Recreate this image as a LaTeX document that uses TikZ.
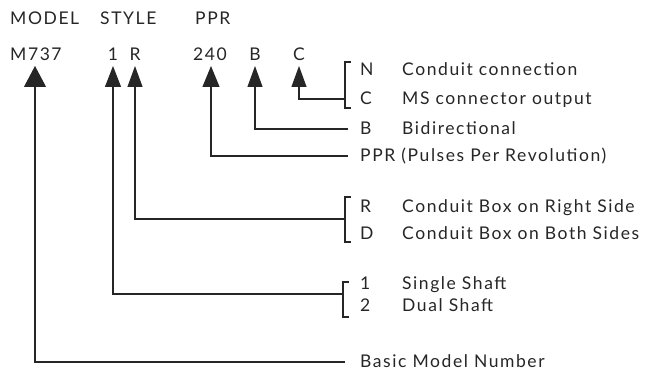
\documentclass[tikz,border=0pt]{standalone}
\usepackage{fontspec}
\setmainfont{Lato}[LetterSpace=9]
\usetikzlibrary{arrows.meta}
\begin{document}
\begin{tikzpicture}[x=1pt,y=-1pt,
  lbl/.style={anchor=base west, inner sep=0pt, font=\fontsize{17.5}{19}\selectfont, text=black!85},
  conn/.style={line width=1.1pt, draw=black!85},
  tip/.style={-{Triangle[length=21pt,width=#1]}},
  brk/.style={line width=1.1pt, draw=black!85}]
\useasboundingbox (0,0) rectangle (645,371);
% header
\node[lbl] (hModel) at (10,25) {MODEL};
\node[lbl] (hStyle) at (100,25) {STYLE};
\node[lbl] (hPPR) at (195,25) {PPR};
% codes
\node[lbl] (cM) at (10,61) {M737};
\node[lbl, anchor=base] (cI) at (113,61) {1};
\node[lbl, anchor=base] (cR) at (135,61) {R};
\node[lbl] (c240) at (193,61) {240};
\node[lbl, anchor=base] (cB) at (255,61) {B};
\node[lbl, anchor=base] (cC) at (299,61) {C};
% right labels
\node[lbl] (kN) at (360,76) {N};
\node[lbl] (dN) at (402,76) {Conduit connection};
\node[lbl] (kC) at (360,105) {C};
\node[lbl] (dC) at (402,105) {MS connector output};
\node[lbl] (kB) at (360,135) {B};
\node[lbl] (dB) at (402,135) {Bidirectional};
\node[lbl] (kP) at (360,162) {PPR (Pulses Per Revolution)};
\node[lbl] (kR) at (360,213) {R};
\node[lbl] (dR) at (402,213) {Conduit Box on Right Side};
\node[lbl] (kD) at (360,240) {D};
\node[lbl] (dD) at (402,240) {Conduit Box on Both Sides};
\node[lbl] (k1) at (360,290) {1};
\node[lbl] (d1) at (402,290) {Single Shaft};
\node[lbl] (k2) at (360,312) {2};
\node[lbl] (d2) at (402,312) {Dual Shaft};
\node[lbl] (kBasic) at (360,367) {Basic Model Number};
% brackets
\draw[brk] (351,62) -- (345,62) -- (345,108) -- (351,108);
\draw[brk] (351,197) -- (345,197) -- (345,242) -- (351,242);
\draw[brk] (349,282) -- (343,282) -- (343,317) -- (349,317);
% tips
\coordinate (tM) at (35,66);
\coordinate (tI) at (113,66);
\coordinate (tR) at (135,66);
\coordinate (t240) at (211,66);
\coordinate (tB) at (255,66);
\coordinate (tC) at (299,66);
% connector ends
\coordinate (eM) at (345,362);
\coordinate (eI) at (343,294);
\coordinate (eR) at (345,219);
\coordinate (e240) at (348,156);
\coordinate (eB) at (348,129);
\coordinate (eC) at (345,99);
% connectors
\draw[conn,tip=22pt] (eM) -| (tM);
\draw[conn,tip=16pt] (eI) -| (tI);
\draw[conn,tip=15pt] (eR) -| (tR);
\draw[conn,tip=17pt] (e240) -| (t240);
\draw[conn,tip=15pt] (eB) -| (tB);
\draw[conn,tip=15pt] (eC) -| (tC);
\end{tikzpicture}
\end{document}
